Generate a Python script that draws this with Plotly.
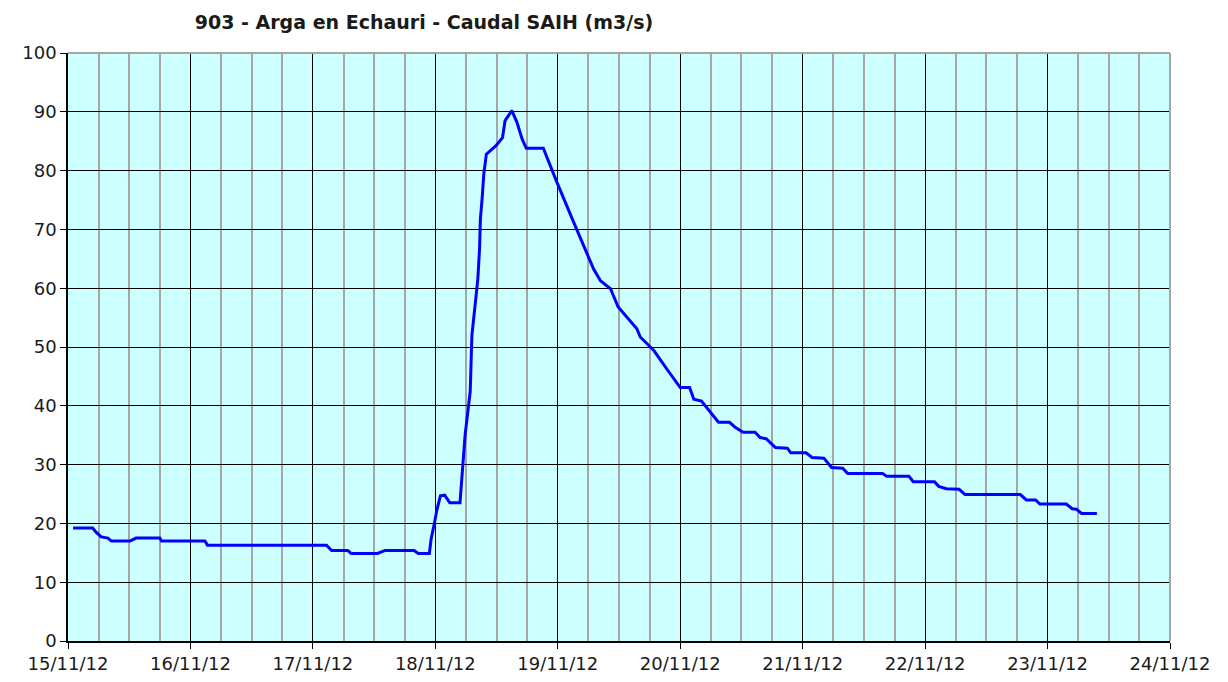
import plotly.graph_objects as go

# Data: time stamps and flow (m3/s)
times = [
    "2012-11-15 01:00", "2012-11-15 04:50", "2012-11-15 05:30", "2012-11-15 06:30",
    "2012-11-15 07:50", "2012-11-15 08:30", "2012-11-15 12:10", "2012-11-15 13:20",
    "2012-11-15 18:00", "2012-11-15 18:20", "2012-11-16 02:50", "2012-11-16 03:20",
    "2012-11-17 02:40", "2012-11-17 03:40", "2012-11-17 06:50", "2012-11-17 07:30",
    "2012-11-17 12:40", "2012-11-17 14:10", "2012-11-17 19:50", "2012-11-17 20:40",
    "2012-11-17 22:50", "2012-11-17 23:10", "2012-11-17 23:50", "2012-11-18 00:20",
    "2012-11-18 01:00", "2012-11-18 01:50", "2012-11-18 02:50", "2012-11-18 04:50",
    "2012-11-18 05:50", "2012-11-18 06:50", "2012-11-18 07:10", "2012-11-18 07:50",
    "2012-11-18 08:20", "2012-11-18 08:40", "2012-11-18 08:50", "2012-11-18 09:10",
    "2012-11-18 09:30", "2012-11-18 10:00", "2012-11-18 11:50", "2012-11-18 13:10",
    "2012-11-18 13:40", "2012-11-18 15:00", "2012-11-18 16:00", "2012-11-18 17:00",
    "2012-11-18 17:50", "2012-11-18 21:10", "2012-11-18 23:50", "2012-11-19 03:40",
    "2012-11-19 07:00", "2012-11-19 08:20", "2012-11-19 10:20", "2012-11-19 11:50",
    "2012-11-19 15:30", "2012-11-19 16:10", "2012-11-19 18:50", "2012-11-19 21:20",
    "2012-11-19 23:20", "2012-11-20 00:00", "2012-11-20 01:50", "2012-11-20 02:40",
    "2012-11-20 04:10", "2012-11-20 07:30", "2012-11-20 09:40", "2012-11-20 10:50",
    "2012-11-20 12:20", "2012-11-20 14:40", "2012-11-20 15:40", "2012-11-20 16:50",
    "2012-11-20 18:40", "2012-11-20 21:00", "2012-11-20 21:40", "2012-11-21 00:40",
    "2012-11-21 01:50", "2012-11-21 04:10", "2012-11-21 05:40", "2012-11-21 07:50",
    "2012-11-21 08:50", "2012-11-21 15:40", "2012-11-21 16:30", "2012-11-21 20:50",
    "2012-11-21 21:40", "2012-11-22 01:50", "2012-11-22 02:40", "2012-11-22 04:10",
    "2012-11-22 06:40", "2012-11-22 07:50", "2012-11-22 18:40", "2012-11-22 19:50",
    "2012-11-22 21:40", "2012-11-22 22:30", "2012-11-23 03:40", "2012-11-23 04:50",
    "2012-11-23 05:40", "2012-11-23 06:40", "2012-11-23 09:40",
]
caudal = [
    19.2, 19.2, 18.5, 17.7,
    17.5, 17.0, 17.0, 17.5,
    17.5, 17.0, 17.0, 16.3,
    16.3, 15.4, 15.4, 14.9,
    14.9, 15.4, 15.4, 14.9,
    14.9, 17.3, 20.1, 22.4,
    24.7, 24.8, 23.5, 23.5,
    35.0, 42.4, 52.0, 57.1,
    61.6, 66.7, 71.8, 75.2,
    79.4, 82.8, 84.2, 85.6,
    88.5, 90.2, 88.2, 85.4,
    83.8, 83.8, 78.0, 70.1,
    63.3, 61.3, 59.9, 56.8,
    53.1, 51.7, 49.4, 46.3,
    43.9, 43.1, 43.1, 41.1,
    40.8, 37.2, 37.2, 36.3,
    35.5, 35.5, 34.6, 34.4,
    32.9, 32.8, 32.0, 32.0,
    31.2, 31.1, 29.5, 29.4,
    28.5, 28.5, 28.0, 28.0,
    27.1, 27.1, 26.3, 25.9,
    25.8, 24.9, 24.9, 24.0,
    24.0, 23.3, 23.3, 22.5,
    22.4, 21.7, 21.7,
]

title_text = "903 - Arga en Echauri - Caudal SAIH (m3/s)"
x_start = "2012-11-15 00:00"
x_end = "2012-11-24 00:00"

FONT = "DejaVu Sans"
TXT = "#1a1a1a"

fig = go.Figure()
fig.add_trace(go.Scatter(
    x=times, y=caudal, mode="lines",
    line=dict(color="#0000FF", width=3),
    showlegend=False, hoverinfo="x+y",
))

fig.update_layout(
    width=1228, height=682,
    margin=dict(l=68, r=58, t=53, b=41, autoexpand=False),
    paper_bgcolor="white",
    plot_bgcolor="#CCFFFF",
    font=dict(family=FONT, size=18, color=TXT),
    title=dict(
        text="<b>" + title_text + "</b>",
        xref="container", x=424 / 1228, xanchor="center",
        yref="container", y=1 - 22 / 682, yanchor="middle",
        font=dict(family=FONT, size=19, color=TXT),
    ),
)

fig.update_xaxes(
    type="date",
    range=[x_start, x_end],
    dtick=86400000,
    tick0=x_start,
    tickformat="%d/%m/%y",
    ticks="outside", ticklen=6, tickcolor="black", tickwidth=1,
    showline=True, linecolor="black", linewidth=1.5,
    showgrid=True, gridcolor="black", gridwidth=1,
    minor=dict(dtick=6 * 3600000, tick0=x_start, showgrid=True,
               gridcolor="#A6A6A6", gridwidth=2, ticks=""),
    tickfont=dict(family=FONT, size=18, color=TXT),
    zeroline=False,
    fixedrange=True,
)
fig.update_yaxes(
    range=[0, 100],
    dtick=10,
    ticks="outside", ticklen=6, tickcolor="black", tickwidth=1,
    showline=True, linecolor="black", linewidth=1.5,
    showgrid=True, gridcolor="black", gridwidth=1,
    tickfont=dict(family=FONT, size=18, color=TXT),
    zeroline=False,
    fixedrange=True,
)

# gray border on top and right of plot area
fig.add_shape(type="line", xref="paper", yref="paper", x0=0, x1=1, y0=1, y1=1,
              line=dict(color="#A6A6A6", width=2), layer="above")
fig.add_shape(type="line", xref="paper", yref="paper", x0=1, x1=1, y0=0, y1=1,
              line=dict(color="#A6A6A6", width=2), layer="above")

fig.write_html("out.html", config={"displayModeBar": False},
               post_script="document.body.style.margin='0';")
